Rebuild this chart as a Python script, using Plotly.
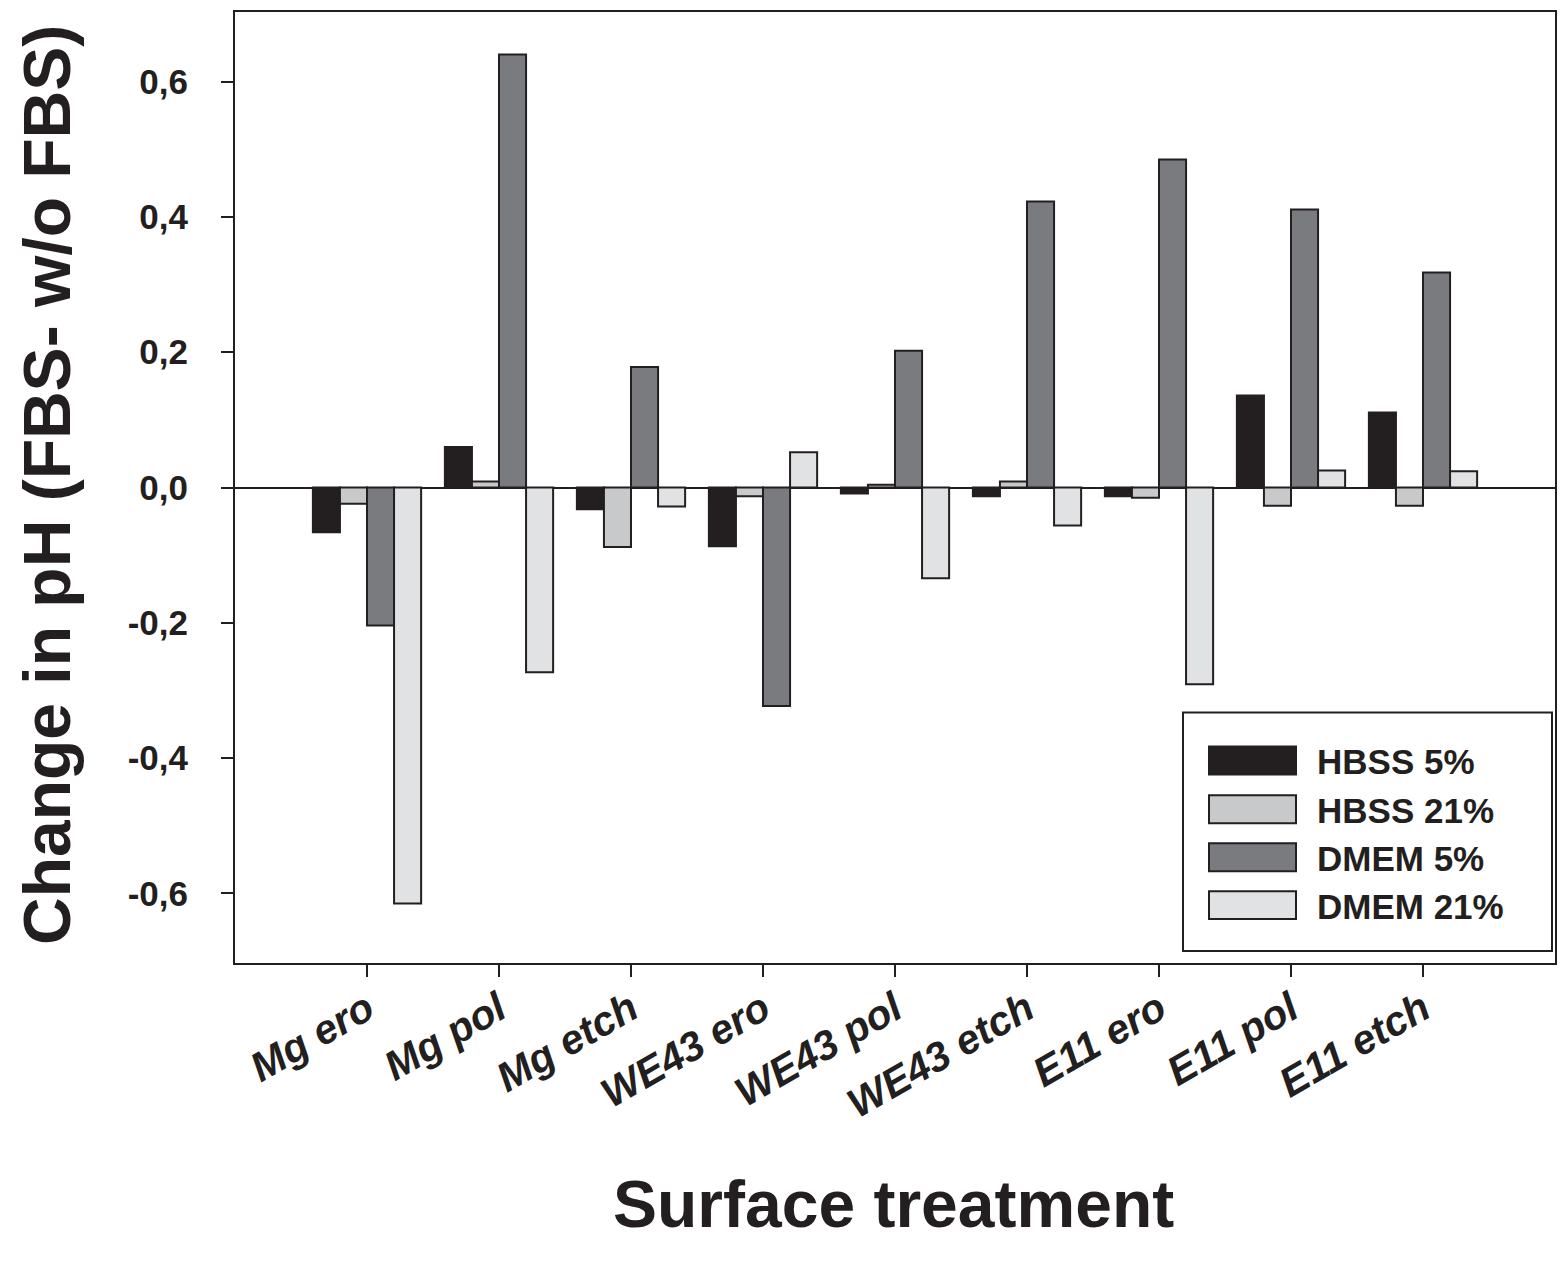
import plotly.graph_objects as go

# Surface treatments (x categories)
treatments = ["Mg ero", "Mg pol", "Mg etch", "WE43 ero", "WE43 pol",
              "WE43 etch", "E11 ero", "E11 pol", "E11 etch"]

# Change in pH (with FBS minus without FBS) per medium / O2 level
hbss_5 = [-0.066, 0.060, -0.032, -0.087, -0.009, -0.013, -0.013, 0.136, 0.111]
hbss_21 = [-0.024, 0.009, -0.088, -0.013, 0.004, 0.009, -0.015, -0.027, -0.027]
dmem_5 = [-0.204, 0.640, 0.178, -0.323, 0.202, 0.423, 0.485, 0.411, 0.318]
dmem_21 = [-0.615, -0.273, -0.028, 0.052, -0.134, -0.056, -0.291, 0.025, 0.024]

series_names = ["HBSS 5%", "HBSS 21%", "DMEM 5%", "DMEM 21%"]
series_values = [hbss_5, hbss_21, dmem_5, dmem_21]
series_colors = ["#231f20", "#c8c9cb", "#7a7b7f", "#e1e2e4"]

y_ticks = [-0.6, -0.4, -0.2, 0.0, 0.2, 0.4, 0.6]
y_tick_labels = ["-0,6", "-0,4", "-0,2", "0,0", "0,2", "0,4", "0,6"]

INK = "#231f20"
FONT = "Liberation Sans, Arial, sans-serif"

W, H = 1567, 1268
L, R, T, B = 235, 12, 10, 305
PW, PH = W - L - R, H - T - B


def px_x(px):
    return (px - L) / PW


def px_y(py):
    return (H - B - py) / PH


fig = go.Figure()
for name, vals, col in zip(series_names, series_values, series_colors):
    fig.add_trace(go.Bar(
        x=treatments, y=vals, name=name,
        marker=dict(color=col, line=dict(color=INK, width=2)),
        showlegend=False,
    ))

# Legend panel drawn in paper coordinates
shapes = [dict(type="rect", xref="paper", yref="paper",
               x0=px_x(1183), x1=px_x(1552), y0=px_y(951), y1=px_y(712),
               line=dict(color=INK, width=2), fillcolor="white", layer="above")]
annotations = []
row_centers = [760, 809, 857, 905]
for name, col, cy in zip(series_names, series_colors, row_centers):
    shapes.append(dict(type="rect", xref="paper", yref="paper",
                       x0=px_x(1209), x1=px_x(1296),
                       y0=px_y(cy + 14), y1=px_y(cy - 14),
                       line=dict(color=INK, width=2), fillcolor=col,
                       layer="above"))
    annotations.append(dict(xref="paper", yref="paper", x=px_x(1315),
                            y=px_y(cy + 1), text=f"<b>{name}</b>",
                            showarrow=False,
                            xanchor="left", yanchor="middle",
                            font=dict(family=FONT, size=35, color=INK)))

# Axis titles
annotations.append(dict(xref="paper", yref="paper", x=px_x(893), y=px_y(1205),
                        text="<b>Surface treatment</b>", showarrow=False,
                        xanchor="center", yanchor="middle",
                        font=dict(family=FONT, size=66, color=INK)))
annotations.append(dict(xref="paper", yref="paper", x=px_x(47), y=px_y(484),
                        text="<b>Change in pH (FBS- w/o FBS)</b>",
                        showarrow=False, textangle=-90,
                        xanchor="center", yanchor="middle",
                        font=dict(family=FONT, size=66, color=INK)))

fig.update_layout(
    width=W, height=H,
    margin=dict(l=L, r=R, t=T, b=B, pad=0),
    paper_bgcolor="white", plot_bgcolor="white",
    barmode="group", bargap=0.18, bargroupgap=0,
    shapes=shapes, annotations=annotations,
    font=dict(family=FONT, color=INK),
)

fig.update_xaxes(
    type="category", range=[-1, 9],
    showline=True, mirror=True, linecolor=INK, linewidth=2,
    ticks="outside", ticklen=12, tickwidth=1.5, tickcolor=INK,
    tickangle=-30, showgrid=False, zeroline=False,
    tickfont=dict(family=FONT, size=41, color=INK, weight="bold",
                  style="italic"),
    ticklabelstandoff=-8,
)
fig.update_yaxes(
    range=[-0.703, 0.703],
    tickvals=y_ticks, ticktext=y_tick_labels,
    showline=True, mirror=True, linecolor=INK, linewidth=2,
    ticks="outside", ticklen=12, tickwidth=1.5, tickcolor=INK,
    showgrid=False, zeroline=True, zerolinecolor=INK, zerolinewidth=1.5,
    tickfont=dict(family=FONT, size=35, color=INK, weight="bold"),
    ticklabelstandoff=26,
)

fig.write_html("out.html")
